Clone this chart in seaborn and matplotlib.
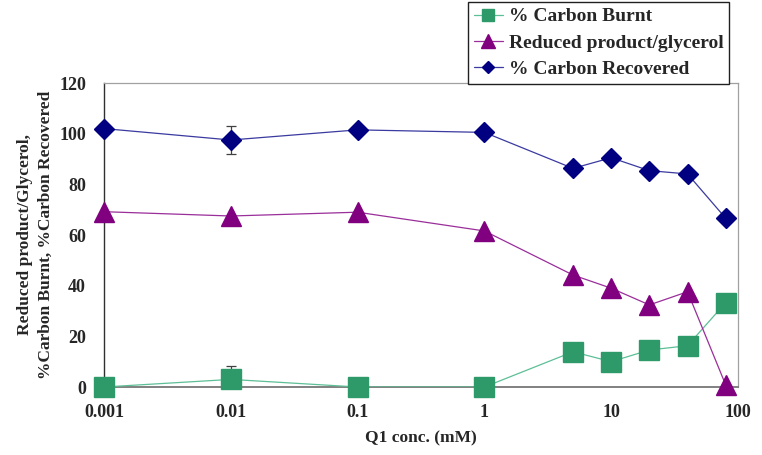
import matplotlib
matplotlib.use("Agg")
import matplotlib.pyplot as plt
import seaborn as sns
import pandas as pd
import numpy as np
from matplotlib.lines import Line2D

# ---- data ----
conc = [0.001, 0.01, 0.1, 1, 5, 10, 20, 40, 80]
carbon_burnt = [0.0, 3.0, 0.0, 0.0, 13.9, 10.0, 14.6, 16.3, 33.3]
reduced_product = [69.2, 67.5, 69.0, 61.6, 44.2, 39.0, 32.4, 37.6, 0.8]
carbon_recovered = [102.0, 97.5, 101.5, 100.5, 86.3, 90.5, 85.4, 84.1, 66.6]
err_conc = [0.01]
err_burnt = [5.4]
err_recovered = [5.6]
series_names = ["% Carbon Burnt", "Reduced product/glycerol", "% Carbon Recovered"]
x_ticks = [0.001, 0.01, 0.1, 1, 10, 100]
x_tick_labels = ["0.001", "0.01", "0.1", "1", "10", "100"]
y_ticks = [0, 20, 40, 60, 80, 100, 120]

colors = {series_names[0]: "#2E9A6A", series_names[1]: "#800080", series_names[2]: "#000080"}
line_colors = {series_names[0]: "#5DBF96", series_names[1]: "#9A2E9A", series_names[2]: "#3A3AA0"}
markers = {series_names[0]: "s", series_names[1]: "^", series_names[2]: "D"}
msizes = {series_names[0]: 14, series_names[1]: 15, series_names[2]: 10}

df = pd.DataFrame({
    "conc": conc * 3,
    "value": carbon_burnt + reduced_product + carbon_recovered,
    "series": sum([[s] * len(conc) for s in series_names], []),
})

sns.set_style("white")
plt.rcParams["font.family"] = ["Liberation Serif", "DejaVu Serif"]
plt.rcParams["font.weight"] = "bold"

fig = plt.figure(figsize=(7.62, 4.55), dpi=100)
ax = fig.add_axes([104 / 762, 1 - 387 / 455, (738 - 104) / 762, (387 - 83) / 455])
ax.set_xscale("log")

# error bars
ax.errorbar(err_conc, [carbon_burnt[conc.index(c)] for c in err_conc], yerr=err_burnt,
            fmt="none", ecolor="#404040", elinewidth=0.9, capsize=3.5, capthick=0.9, zorder=2)
ax.errorbar(err_conc, [carbon_recovered[conc.index(c)] for c in err_conc], yerr=err_recovered,
            fmt="none", ecolor="#404040", elinewidth=0.9, capsize=3.5, capthick=0.9, zorder=2)

for s in series_names:
    sub = df[df["series"] == s]
    sns.lineplot(data=sub, x="conc", y="value", ax=ax, color=line_colors[s], lw=0.9,
                 zorder=3, legend=False, estimator=None)
    ax.plot(sub["conc"], sub["value"], ls="none", marker=markers[s], ms=msizes[s],
            mfc=colors[s], mec=colors[s], clip_on=False, zorder=4)

ax.set_xlim(0.001, 100)
ax.set_ylim(0, 120)
ax.set_xticks(x_ticks)
ax.set_xticklabels(x_tick_labels)
ax.minorticks_off()
ax.set_yticks(y_ticks)
ax.tick_params(axis="both", direction="in", length=4, width=0.8, color="#404040",
               labelsize=13, pad=12)
ax.tick_params(axis="y", pad=13)
for lab in ax.get_xticklabels() + ax.get_yticklabels():
    lab.set_fontweight("bold")

for side in ["top", "right"]:
    ax.spines[side].set_color("#A0A0A0")
    ax.spines[side].set_linewidth(0.9)
ax.spines["left"].set_color("#303030")
ax.spines["left"].set_linewidth(1.0)
ax.spines["bottom"].set_color("#808080")
ax.spines["bottom"].set_linewidth(1.4)
for sp in ax.spines.values():
    sp.set_zorder(1)

ax.set_xlabel("Q1 conc. (mM)", fontsize=12.5, fontweight="bold", labelpad=7)
ax.set_ylabel("Reduced product/Glycerol,\n%Carbon Burnt, %Carbon Recovered",
              fontsize=12.5, fontweight="bold", labelpad=4, linespacing=1.35)

handles = [Line2D([0], [0], color=line_colors[s], lw=0.9, marker=markers[s],
                  ms=msizes[s] * 0.65, mfc=colors[s], mec=colors[s]) for s in series_names]
leg = fig.legend(handles, series_names, loc="upper left", bbox_to_anchor=(468 / 762, 1 - 2 / 455),
                 bbox_transform=fig.transFigure, frameon=True, fancybox=False, framealpha=1,
                 edgecolor="#202020", prop={"family": ["Liberation Serif"], "weight": "bold", "size": 14},
                 handlelength=1.5, handletextpad=0.3, labelspacing=0.45, borderpad=0.3,
                 borderaxespad=0)
leg.get_frame().set_linewidth(1.0)

fig.savefig("out.png", dpi=100)
